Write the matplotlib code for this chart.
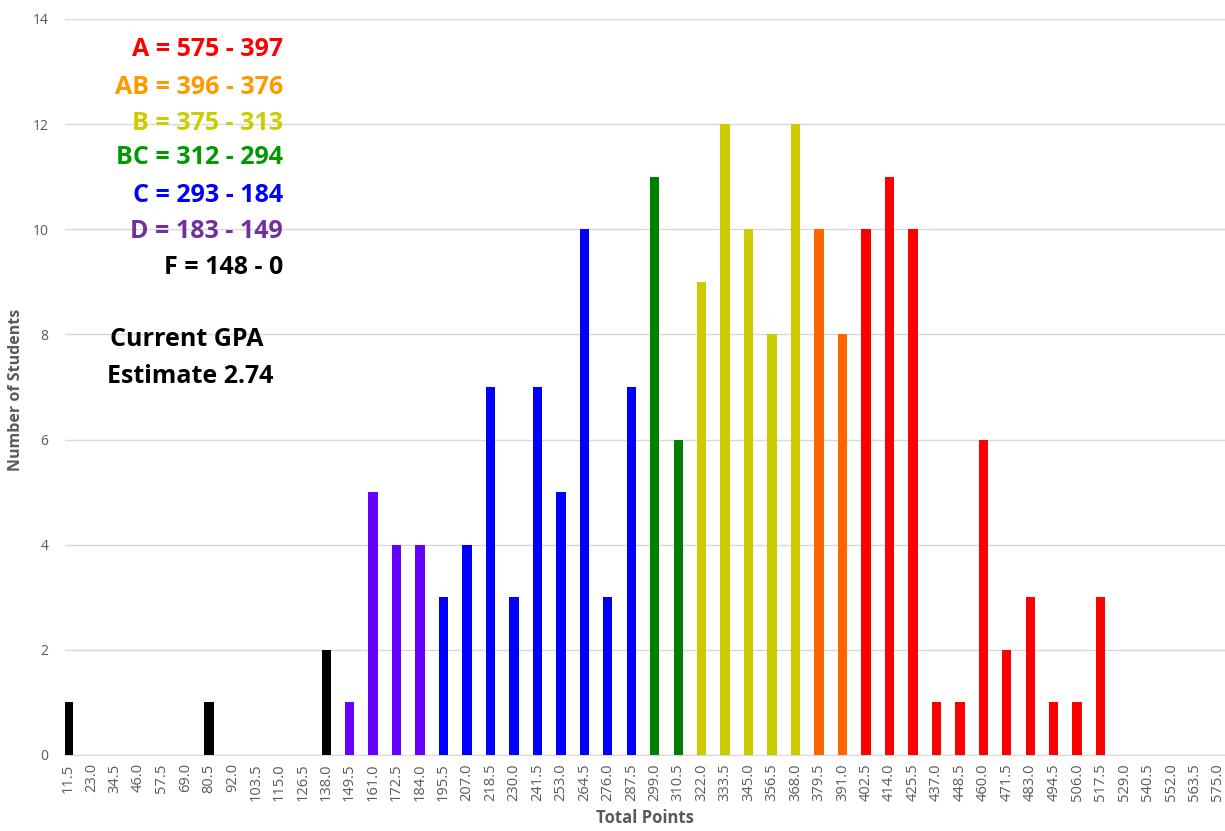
import numpy as np
import matplotlib; matplotlib.use("Agg")
import matplotlib.pyplot as plt

# bins (upper edge of each 11.5-point bin) and student counts
bins = [11.5 * (i + 1) for i in range(50)]
counts = [1, 0, 0, 0, 0, 0, 1, 0, 0, 0,
          0, 2, 1, 5, 4, 4, 3, 4, 7, 3,
          7, 5, 10, 3, 7, 11, 6, 9, 12, 10,
          8, 12, 10, 8, 10, 11, 10, 1, 1, 6,
          2, 3, 1, 1, 3, 0, 0, 0, 0, 0]
# grade of each bin, by index
grades = (["F"] * 12 + ["D"] * 4 + ["C"] * 9 + ["BC"] * 2 + ["B"] * 5
          + ["AB"] * 2 + ["A"] * 16)
bar_colors = {"F": "#000000", "D": "#6600FF", "C": "#0000FF", "BC": "#008000",
              "B": "#CCCC00", "AB": "#FF6600", "A": "#FF0000"}

scale_text = ["A = 575 - 397", "AB = 396 - 376", "B = 375 - 313", "BC = 312 - 294",
              "C = 293 - 184", "D = 183 - 149", "F = 148 - 0"]
scale_colors = ["#FF0000", "#FF9900", "#CCCC00", "#009900", "#0000FF", "#7030A0", "#000000"]

plt.rcParams["font.family"] = ["Open Sans", "DejaVu Sans"]
fig = plt.figure(figsize=(12.25, 8.31), dpi=100)
ax = fig.add_axes([65 / 1225, 1 - 755 / 831, 1 - 65 / 1225, (755 - 19) / 831])

x = np.arange(len(bins))
ax.bar(x, counts, width=0.4, color=[bar_colors[g] for g in grades], zorder=3)

ax.set_xlim(-0.13, 49.3)
ax.set_ylim(0, 14)
ax.set_yticks(range(0, 15, 2))
ax.set_xticks(x)
ax.set_xticklabels([f"{b:.1f}" for b in bins], rotation=90, fontsize=10.5, color="#595959")
ax.tick_params(axis="y", labelsize=10, labelcolor="#595959", length=0, pad=12)
ax.tick_params(axis="x", length=0, pad=6)
ax.grid(axis="y", color="#D9D9D9", lw=1, zorder=0)
for s in ["top", "right", "left"]:
    ax.spines[s].set_visible(False)
ax.spines["bottom"].set_color("#D9D9D9")

fig.text(16 / 1225, 1 - 390 / 831, "Number of Students", rotation=90, fontsize=11.5,
         fontweight="bold", color="#595959", ha="center", va="center")
ax.set_xlabel("Total Points", fontsize=12, fontweight="bold", color="#595959", labelpad=6)

ys = [50, 87, 123, 158, 196, 232, 267]
for t, c, yp in zip(scale_text, scale_colors, ys):
    fig.text(283 / 1225, 1 - yp / 831, t, color=c, fontsize=18, fontweight="bold",
             ha="right", va="center")
fig.text(187 / 1225, 1 - 340 / 831, "Current GPA", fontsize=18, fontweight="bold",
         ha="center", va="center")
fig.text(190 / 1225, 1 - 376 / 831, "Estimate 2.74", fontsize=18, fontweight="bold",
         ha="center", va="center")

fig.savefig("out.png", dpi=100)
